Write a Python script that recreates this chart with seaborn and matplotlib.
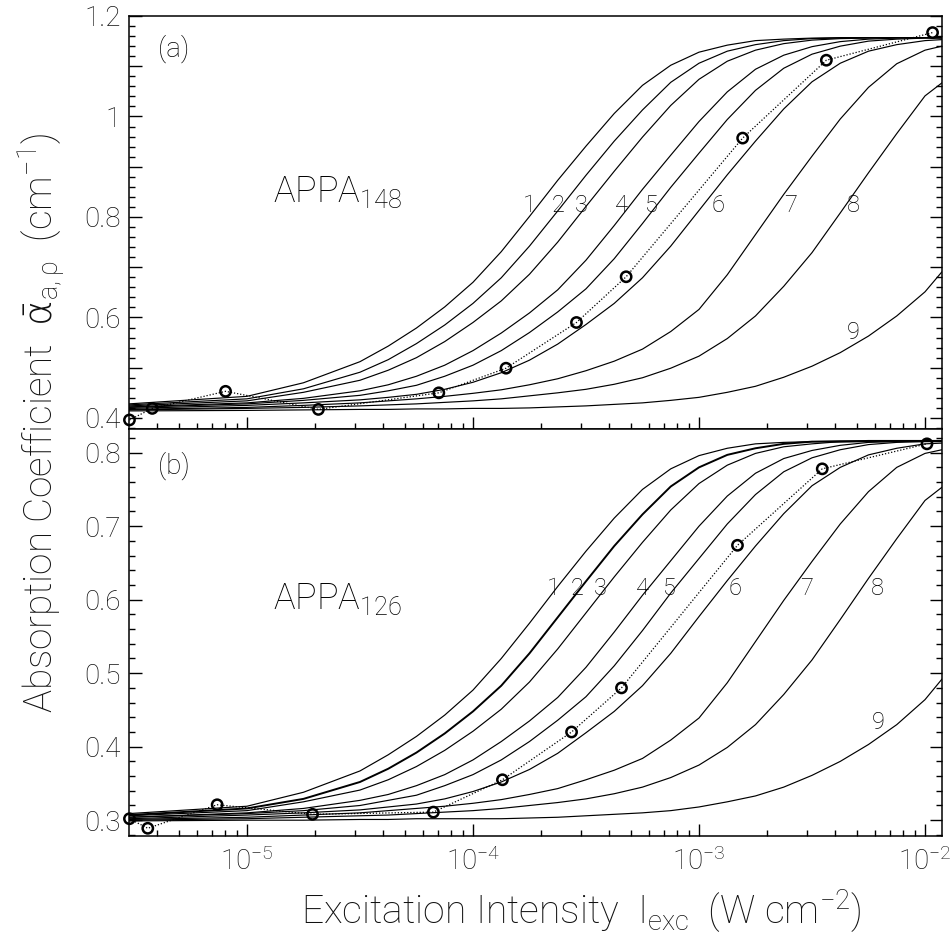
import numpy as np
import pandas as pd
import matplotlib
matplotlib.use("Agg")
import matplotlib.pyplot as plt
import seaborn as sns
from matplotlib.ticker import MultipleLocator, FuncFormatter, LogLocator, NullFormatter

# ---------------- data ----------------
I_grid = [3.006e-6, 1.0e-5, 1.778e-5, 3.162e-5, 4.217e-5, 5.623e-5, 7.499e-5, 1.0e-4,
          1.334e-4, 1.778e-4, 2.371e-4, 3.162e-4, 4.217e-4, 5.623e-4, 7.499e-4, 1.0e-3,
          1.334e-3, 1.778e-3, 2.371e-3, 3.162e-3, 4.217e-3, 5.623e-3, 7.499e-3, 1.0e-2,
          1.189e-2]

a_c1 = [0.428, 0.443, 0.470, 0.512, 0.543, 0.579, 0.621, 0.670, 0.731, 0.801, 0.873, 0.941, 1.006,
        1.062, 1.102, 1.128, 1.142, 1.151, 1.154, 1.156, 1.157, 1.157, 1.157, 1.157, 1.157]
a_c2 = [0.426, 0.438, 0.458, 0.491, 0.516, 0.548, 0.585, 0.628, 0.679, 0.742, 0.812, 0.883, 0.951,
        1.013, 1.068, 1.106, 1.130, 1.143, 1.151, 1.155, 1.156, 1.157, 1.157, 1.157, 1.157]
a_c3 = [0.424, 0.434, 0.451, 0.475, 0.495, 0.520, 0.552, 0.590, 0.633, 0.686, 0.750, 0.821, 0.891,
        0.959, 1.022, 1.074, 1.110, 1.132, 1.145, 1.152, 1.155, 1.156, 1.157, 1.157, 1.157]
a_c4 = [0.422, 0.430, 0.439, 0.454, 0.466, 0.483, 0.505, 0.534, 0.569, 0.609, 0.655, 0.714, 0.783,
        0.855, 0.923, 0.990, 1.049, 1.094, 1.122, 1.139, 1.149, 1.154, 1.156, 1.157, 1.157]
a_c5 = [0.421, 0.428, 0.435, 0.445, 0.454, 0.465, 0.483, 0.505, 0.534, 0.570, 0.611, 0.657, 0.717,
        0.787, 0.859, 0.927, 0.994, 1.052, 1.096, 1.124, 1.140, 1.150, 1.154, 1.156, 1.156]
a_c6 = [0.419, 0.425, 0.430, 0.436, 0.441, 0.447, 0.457, 0.471, 0.490, 0.515, 0.547, 0.586, 0.628,
        0.679, 0.742, 0.813, 0.884, 0.951, 1.015, 1.069, 1.106, 1.130, 1.143, 1.151, 1.153]
a_c7 = [0.417, 0.421, 0.425, 0.430, 0.434, 0.438, 0.443, 0.449, 0.456, 0.466, 0.478, 0.494, 0.513,
        0.537, 0.572, 0.616, 0.685, 0.765, 0.845, 0.921, 0.995, 1.058, 1.105, 1.132, 1.140]
a_c8 = [0.416, 0.419, 0.421, 0.424, 0.426, 0.428, 0.431, 0.434, 0.438, 0.444, 0.450, 0.457, 0.467,
        0.480, 0.499, 0.523, 0.558, 0.603, 0.662, 0.729, 0.808, 0.888, 0.966, 1.041, 1.067]
a_c9 = [0.414, 0.415, 0.416, 0.417, 0.417, 0.418, 0.418, 0.419, 0.419, 0.420, 0.422, 0.424, 0.427,
        0.430, 0.435, 0.441, 0.451, 0.463, 0.481, 0.503, 0.530, 0.563, 0.603, 0.651, 0.691]

b_c1 = [0.309, 0.319, 0.338, 0.367, 0.389, 0.414, 0.443, 0.477, 0.520, 0.568, 0.618, 0.666, 0.711,
        0.750, 0.778, 0.796, 0.806, 0.812, 0.814, 0.815, 0.816, 0.816, 0.816, 0.816, 0.816]
b_c2 = [0.307, 0.316, 0.329, 0.352, 0.370, 0.392, 0.418, 0.448, 0.483, 0.527, 0.576, 0.625, 0.673,
        0.716, 0.754, 0.780, 0.797, 0.806, 0.812, 0.815, 0.815, 0.816, 0.816, 0.816, 0.816]
b_c3 = [0.306, 0.313, 0.325, 0.341, 0.355, 0.373, 0.395, 0.421, 0.451, 0.488, 0.533, 0.582, 0.631,
        0.678, 0.722, 0.758, 0.783, 0.799, 0.808, 0.812, 0.815, 0.815, 0.816, 0.816, 0.816]
b_c4 = [0.304, 0.310, 0.316, 0.327, 0.335, 0.347, 0.362, 0.382, 0.407, 0.435, 0.467, 0.508, 0.556,
        0.606, 0.653, 0.700, 0.741, 0.772, 0.792, 0.803, 0.810, 0.814, 0.815, 0.816, 0.816]
b_c5 = [0.304, 0.309, 0.313, 0.320, 0.327, 0.334, 0.347, 0.362, 0.382, 0.407, 0.436, 0.468, 0.510,
        0.558, 0.609, 0.656, 0.703, 0.743, 0.774, 0.793, 0.804, 0.811, 0.814, 0.815, 0.815]
b_c6 = [0.302, 0.307, 0.310, 0.314, 0.318, 0.322, 0.329, 0.339, 0.352, 0.369, 0.391, 0.419, 0.448,
        0.483, 0.527, 0.577, 0.626, 0.673, 0.717, 0.755, 0.780, 0.797, 0.806, 0.812, 0.813]
b_c7 = [0.301, 0.304, 0.307, 0.310, 0.313, 0.316, 0.319, 0.323, 0.328, 0.335, 0.343, 0.355, 0.368,
        0.384, 0.409, 0.439, 0.487, 0.543, 0.599, 0.652, 0.703, 0.747, 0.780, 0.799, 0.804]
b_c8 = [0.300, 0.302, 0.304, 0.306, 0.307, 0.309, 0.311, 0.313, 0.316, 0.320, 0.324, 0.329, 0.336,
        0.345, 0.358, 0.375, 0.399, 0.430, 0.471, 0.518, 0.573, 0.629, 0.683, 0.735, 0.753]
b_c9 = [0.299, 0.300, 0.300, 0.301, 0.301, 0.302, 0.302, 0.302, 0.302, 0.303, 0.304, 0.306, 0.308,
        0.310, 0.313, 0.318, 0.325, 0.333, 0.345, 0.361, 0.380, 0.403, 0.430, 0.464, 0.492]

exp_I_a = [3.02e-6, 3.81e-6, 8.04e-6, 2.07e-5, 7.06e-5, 1.40e-4, 2.87e-4, 4.76e-4, 1.56e-3, 3.66e-3, 1.08e-2]
exp_a = [0.396, 0.419, 0.453, 0.417, 0.450, 0.499, 0.590, 0.681, 0.957, 1.112, 1.167]
exp_I_b = [3.02e-6, 3.64e-6, 7.38e-6, 1.95e-5, 6.68e-5, 1.35e-4, 2.73e-4, 4.54e-4, 1.48e-3, 3.51e-3, 1.02e-2]
exp_b = [0.302, 0.289, 0.321, 0.308, 0.311, 0.355, 0.420, 0.480, 0.674, 0.778, 0.812]

curve_names = ["1", "2", "3", "4", "5", "6", "7", "8", "9"]
lab_I_a = [1.78e-4, 2.37e-4, 3.02e-4, 4.54e-4, 6.17e-4, 1.21e-3, 2.54e-3, 4.82e-3, 4.82e-3]
lab_v_a = [0.8225, 0.8225, 0.8225, 0.8225, 0.8225, 0.8225, 0.8225, 0.8225, 0.571]
lab_I_b = [2.26e-4, 2.89e-4, 3.66e-4, 5.61e-4, 7.43e-4, 1.45e-3, 2.99e-3, 6.18e-3, 6.19e-3]
lab_v_b = [0.6155, 0.6155, 0.6155, 0.6155, 0.6155, 0.6155, 0.6155, 0.6155, 0.433]

# ---------------- style ----------------
sns.set_theme(style="ticks")
plt.rcParams["font.family"] = ["Roboto", "DejaVu Sans"]
plt.rcParams["font.weight"] = "light"
plt.rcParams["mathtext.fontset"] = "custom"
plt.rcParams["mathtext.rm"] = "Roboto:light"
plt.rcParams["mathtext.it"] = "Roboto:light"
plt.rcParams["mathtext.bf"] = "Roboto:light"
plt.rcParams["mathtext.sf"] = "DejaVu Sans:light"
plt.rcParams["mathtext.default"] = "regular"

TXT = "#000000"
W, H = 952, 941
fig = plt.figure(figsize=(W / 100, H / 100), dpi=100)
ax1 = fig.add_axes([129 / W, 1 - 429 / H, 813 / W, 413 / H])
ax2 = fig.add_axes([129 / W, 1 - 836 / H, 813 / W, 407 / H])


def draw(ax, curves, exp_I, exp_v, lab_I, lab_v, thick=None):
    for k, vals in enumerate(curves):
        df = pd.DataFrame({"I": I_grid, "v": vals})
        lw = 1.4 if (thick is not None and k == thick) else 0.85
        sns.lineplot(data=df, x="I", y="v", ax=ax, color="black", lw=lw,
                     estimator=None, sort=False, legend=False)
    dfe = pd.DataFrame({"I": exp_I, "v": exp_v})
    sns.lineplot(data=dfe, x="I", y="v", ax=ax, color="black", lw=0.9,
                 linestyle=(0, (1, 1.5)), estimator=None, sort=False, legend=False)
    sns.scatterplot(data=dfe, x="I", y="v", ax=ax, marker="o", s=55,
                    facecolors="none", edgecolors="black", linewidths=1.8,
                    legend=False, clip_on=False, zorder=5)
    for name, xi, yi in zip(curve_names, lab_I, lab_v):
        ax.text(xi, yi, name, fontsize=17, ha="center", va="center", color=TXT)
    ax.set_xscale("log")
    ax.set_xlim(3.006e-6, 1.189e-2)
    ax.set_xlabel("")
    ax.set_ylabel("")
    for sp in ax.spines.values():
        sp.set_visible(True)
        sp.set_linewidth(1.1)
        sp.set_color("black")
    ax.xaxis.set_major_locator(LogLocator(base=10, numticks=20))
    ax.xaxis.set_minor_locator(LogLocator(base=10, subs=np.arange(2, 10), numticks=20))
    ax.xaxis.set_minor_formatter(NullFormatter())
    ax.tick_params(axis="both", which="both", direction="in", colors="black",
                   left=True, right=True, bottom=True, top=False, labelsize=20,
                   labelcolor="#111111")
    ax.tick_params(axis="both", which="major", length=9, width=1.0, pad=6)
    ax.tick_params(axis="both", which="minor", length=4.5, width=1.0)


draw(ax1, [a_c1, a_c2, a_c3, a_c4, a_c5, a_c6, a_c7, a_c8, a_c9],
     exp_I_a, exp_a, lab_I_a, lab_v_a)
draw(ax2, [b_c1, b_c2, b_c3, b_c4, b_c5, b_c6, b_c7, b_c8, b_c9],
     exp_I_b, exp_b, lab_I_b, lab_v_b, thick=1)

ax1.set_ylim(0.378, 1.2)
ax1.yaxis.set_major_locator(MultipleLocator(0.1))
ax1.yaxis.set_minor_locator(MultipleLocator(0.02))
ax1.yaxis.set_major_formatter(FuncFormatter(
    lambda v, p: ("%g" % round(v, 2)) if abs(round(v * 10) % 2) == 0 else ""))
ax1.tick_params(axis="x", which="both", labelbottom=False)

ax2.set_ylim(0.2785, 0.8322)
ax2.yaxis.set_major_locator(MultipleLocator(0.1))
ax2.yaxis.set_minor_locator(MultipleLocator(0.02))
ax2.yaxis.set_major_formatter(FuncFormatter(lambda v, p: "%g" % round(v, 2)))
ax2.tick_params(axis="x", which="major", pad=8)

ax1.text(0.0554, 0.92, "(a)", transform=ax1.transAxes, fontsize=20,
         ha="center", va="center", color=TXT)
ax2.text(0.0554, 0.909, "(b)", transform=ax2.transAxes, fontsize=20,
         ha="center", va="center", color=TXT)
ax1.text(1.30e-5, 0.830, r"APPA$_{148}$", fontsize=26, ha="left",
         va="baseline", color=TXT)
ax2.text(1.30e-5, 0.587, r"APPA$_{126}$", fontsize=26, ha="left",
         va="baseline", color=TXT)

ylab = fig.text(42 / W, 1 - 423 / H,
                r"Absorption Coefficient  $\mathsf{\bar{\alpha}}_{a,\rho}$  (cm$^{-1}$)",
                rotation=90, fontsize=27, ha="center", va="center", color="#111111")
xlab = fig.text(581 / W, 1 - 925 / H,
                r"Excitation Intensity  $I_{exc}$  (W cm$^{-2}$)",
                fontsize=25, ha="center", va="baseline", color="#111111")

# fit the axis titles to the extent they occupy in the reference
fig.canvas.draw()
rend = fig.canvas.get_renderer()
bb = ylab.get_window_extent(rend)
ylab.set_fontsize(27 * 580.0 / bb.height)
bb = xlab.get_window_extent(rend)
xlab.set_fontsize(25 * 562.0 / bb.width)

fig.savefig("out.png", dpi=100)
